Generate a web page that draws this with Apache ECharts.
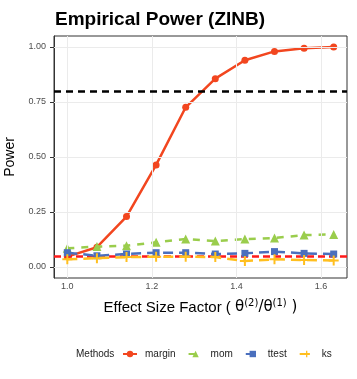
<!DOCTYPE html>
<html>
<head>
<meta charset="utf-8">
<script src="https://cdn.jsdelivr.net/npm/echarts@6/dist/echarts.min.js"></script>
<style>
  html, body { margin: 0; padding: 0; background: #fff; }
  #chart { width: 357px; height: 379px; }
</style>
</head>
<body>
<div id="chart"></div>
<script>
// effect size factors
const effect = [1.0, 1.07, 1.14, 1.21, 1.28, 1.35, 1.42, 1.49, 1.56, 1.63];
// empirical power per method
const margin = [0.047, 0.09, 0.229, 0.464, 0.726, 0.856, 0.94, 0.98, 0.994, 1.0];
const mom = [0.085, 0.093, 0.097, 0.112, 0.127, 0.118, 0.127, 0.132, 0.145, 0.148];
const ttest = [0.065, 0.051, 0.059, 0.065, 0.065, 0.059, 0.062, 0.07, 0.062, 0.059];
const ks = [0.035, 0.04, 0.045, 0.047, 0.047, 0.045, 0.027, 0.035, 0.032, 0.03];
const xTicks = [1.0, 1.2, 1.4, 1.6];
const yTicks = [0, 0.25, 0.5, 0.75, 1.0];
const alphaLine = 0.05;
const targetLine = 0.8;

const plusIcon = 'path://M4,0 L6,0 L6,4 L10,4 L10,6 L6,6 L6,10 L4,10 L4,6 L0,6 L0,4 L4,4 Z';

const pairs = ys => effect.map((x, i) => [x, ys[i]]);

const chart = echarts.init(document.getElementById('chart'));

const gridLines = {
  silent: true,
  symbol: 'none',
  label: { show: false },
  lineStyle: { color: '#ebebeb', type: 'solid', width: 1 },
  data: yTicks.map(v => ({ yAxis: v })).concat(xTicks.map(v => ({ xAxis: v })))
};

let option = {
  animation: false,
  title: [
    {
      text: 'Empirical Power (ZINB)',
      left: 50,
      top: 5,
      textStyle: { fontSize: 19, fontWeight: 'bold', color: '#000', fontFamily: 'Liberation Sans' }
    },
    {
      text: 'Methods',
      left: 71,
      top: 344,
      textStyle: { fontSize: 10, fontWeight: 'normal', color: '#222', fontFamily: 'Liberation Sans' }
    }
  ],
  legend: {
    left: 117,
    top: 344,
    itemWidth: 14,
    itemHeight: 8,
    itemGap: 12,
    textStyle: { fontSize: 10, color: '#222', fontFamily: 'Liberation Sans', padding: [0, 0, 0, 3] },
    data: ['margin', 'mom', 'ttest', 'ks']
  },
  grid: {
    left: 54,
    right: 10,
    top: 36,
    bottom: 101,
    outerBoundsMode: 'none',
    show: true,
    borderColor: '#333',
    borderWidth: 1,
    backgroundColor: '#fff'
  },
  xAxis: {
    type: 'value',
    min: 0.9685,
    max: 1.6615,
    name: 'Effect Size Factor ( {t|θ}{s|(2)}{t|/θ}{s|(1)}{t| )}',
    nameLocation: 'middle',
    nameGap: 20,
    nameTextStyle: {
      fontSize: 15, color: '#000', fontFamily: 'Liberation Sans',
      rich: {
        t: { fontSize: 15, color: '#000', fontFamily: 'DejaVu Sans' },
        s: { fontSize: 10, color: '#000', fontFamily: 'DejaVu Sans', padding: [0, 0, 9, 0] }
      }
    },
    axisLine: { show: true, lineStyle: { color: '#333', width: 1 } },
    splitLine: { show: false },
    axisTick: { show: true, length: 4, customValues: xTicks, lineStyle: { color: '#333' } },
    axisLabel: {
      customValues: xTicks,
      fontSize: 9,
      color: '#4d4d4d',
      margin: 4,
      fontFamily: 'Liberation Sans',
      formatter: v => v.toFixed(1)
    }
  },
  yAxis: {
    type: 'value',
    min: -0.05,
    max: 1.05,
    name: 'Power',
    nameLocation: 'middle',
    nameGap: 32,
    nameTextStyle: { fontSize: 14, color: '#000', fontFamily: 'Liberation Sans' },
    axisLine: { show: true, lineStyle: { color: '#333', width: 1 } },
    splitLine: { show: false },
    axisTick: { show: true, length: 4, customValues: yTicks, lineStyle: { color: '#333' } },
    axisLabel: {
      customValues: yTicks,
      fontSize: 9,
      color: '#4d4d4d',
      margin: 8,
      fontFamily: 'Liberation Sans',
      formatter: v => v.toFixed(2)
    }
  },
  series: [
    {
      name: 'grid',
      type: 'line',
      data: [],
      markLine: gridLines,
      z: 1
    },
    {
      name: 'margin',
      type: 'line',
      data: pairs(margin),
      symbol: 'circle',
      symbolSize: 7,
      color: '#f2461f',
      lineStyle: { width: 2.5 },
      z: 3,
      markLine: {
        silent: true,
        symbol: 'none',
        label: { show: false },
        lineStyle: { color: '#000', type: [7, 5], width: 2.5 },
        data: [{ yAxis: targetLine }]
      }
    },
    {
      name: 'mom',
      type: 'line',
      data: pairs(mom),
      symbol: 'triangle',
      symbolSize: 9,
      color: '#9acd4c',
      lineStyle: { width: 2.5, type: [7, 7] },
      z: 4
    },
    {
      name: 'ttest',
      type: 'line',
      data: pairs(ttest),
      symbol: 'rect',
      symbolSize: 7,
      color: '#4a6fbd',
      lineStyle: { width: 2.5, type: [10, 6] },
      z: 5
    },
    {
      name: 'ks',
      type: 'line',
      data: pairs(ks),
      symbol: plusIcon,
      symbolSize: 10,
      color: '#ffbf1f',
      lineStyle: { width: 2.5, type: [10, 6] },
      z: 6,
      markLine: {
        silent: true,
        symbol: 'none',
        label: { show: false },
        lineStyle: { color: '#ff1a1a', type: [7, 4], width: 2.5 },
        data: [{ yAxis: alphaLine }]
      }
    }
  ]
};

chart.setOption(option);
</script>
</body>
</html>
